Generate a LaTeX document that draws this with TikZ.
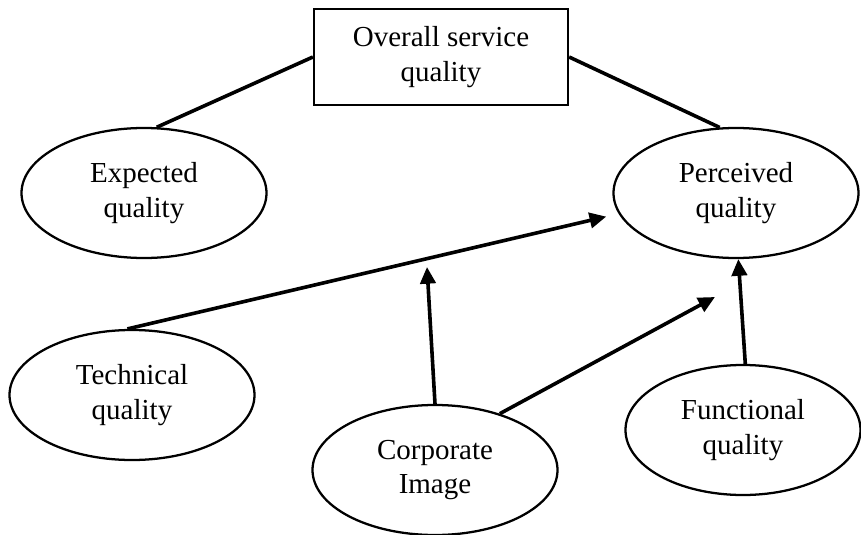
\documentclass[tikz,border=0pt]{standalone}
\usepackage{fontspec}
\setmainfont{Liberation Serif}
\usetikzlibrary{shapes.geometric,arrows.meta,calc}
\begin{document}
\begin{tikzpicture}[x=0.75pt,y=-0.75pt,
  every node/.style={font=\fontsize{21.75}{24.75}\selectfont, align=center, inner sep=0pt},
  ell/.style={draw, ellipse, line width=1.7pt, minimum width=183.75pt, minimum height=97.5pt},
  boxn/.style={draw, rectangle, line width=1.7pt, minimum width=190.5pt, minimum height=72pt},
  conn/.style={line width=2.7pt},
  arr/.style={line width=2.7pt, -{Triangle[length=12.5pt,width=11.5pt]}}]
\useasboundingbox (0,0) rectangle (861,535);
\node[boxn] (ovr) at (441,57) {Overall service\\[1pt]quality};
\node[ell] (exp) at (144,193) {Expected\\[1pt]quality};
\node[ell] (per) at (736,193) {Perceived\\[1pt]quality};
\node[ell] (tec) at (132,395) {Technical\\[1pt]quality};
\node[ell] (cor) at (435,470) {Corporate\\[1pt]Image};
\node[ell, minimum width=176.25pt] (fun) at (743,430) {Functional\\[1pt]quality};
\coordinate (m1) at (427,267);
\coordinate (m2) at (715,297);
\draw[conn] (ovr.west) -- (exp.79);
\draw[conn] (ovr.east) -- (per.104);
\draw[arr, shorten >=9.5pt] (tec.94) -- (per.190);
\draw[arr] (cor.north) -- (m1);
\draw[arr] (cor.41.6) -- (m2);
\draw[arr] (fun.88) -- (per.-88);
\end{tikzpicture}
\end{document}
